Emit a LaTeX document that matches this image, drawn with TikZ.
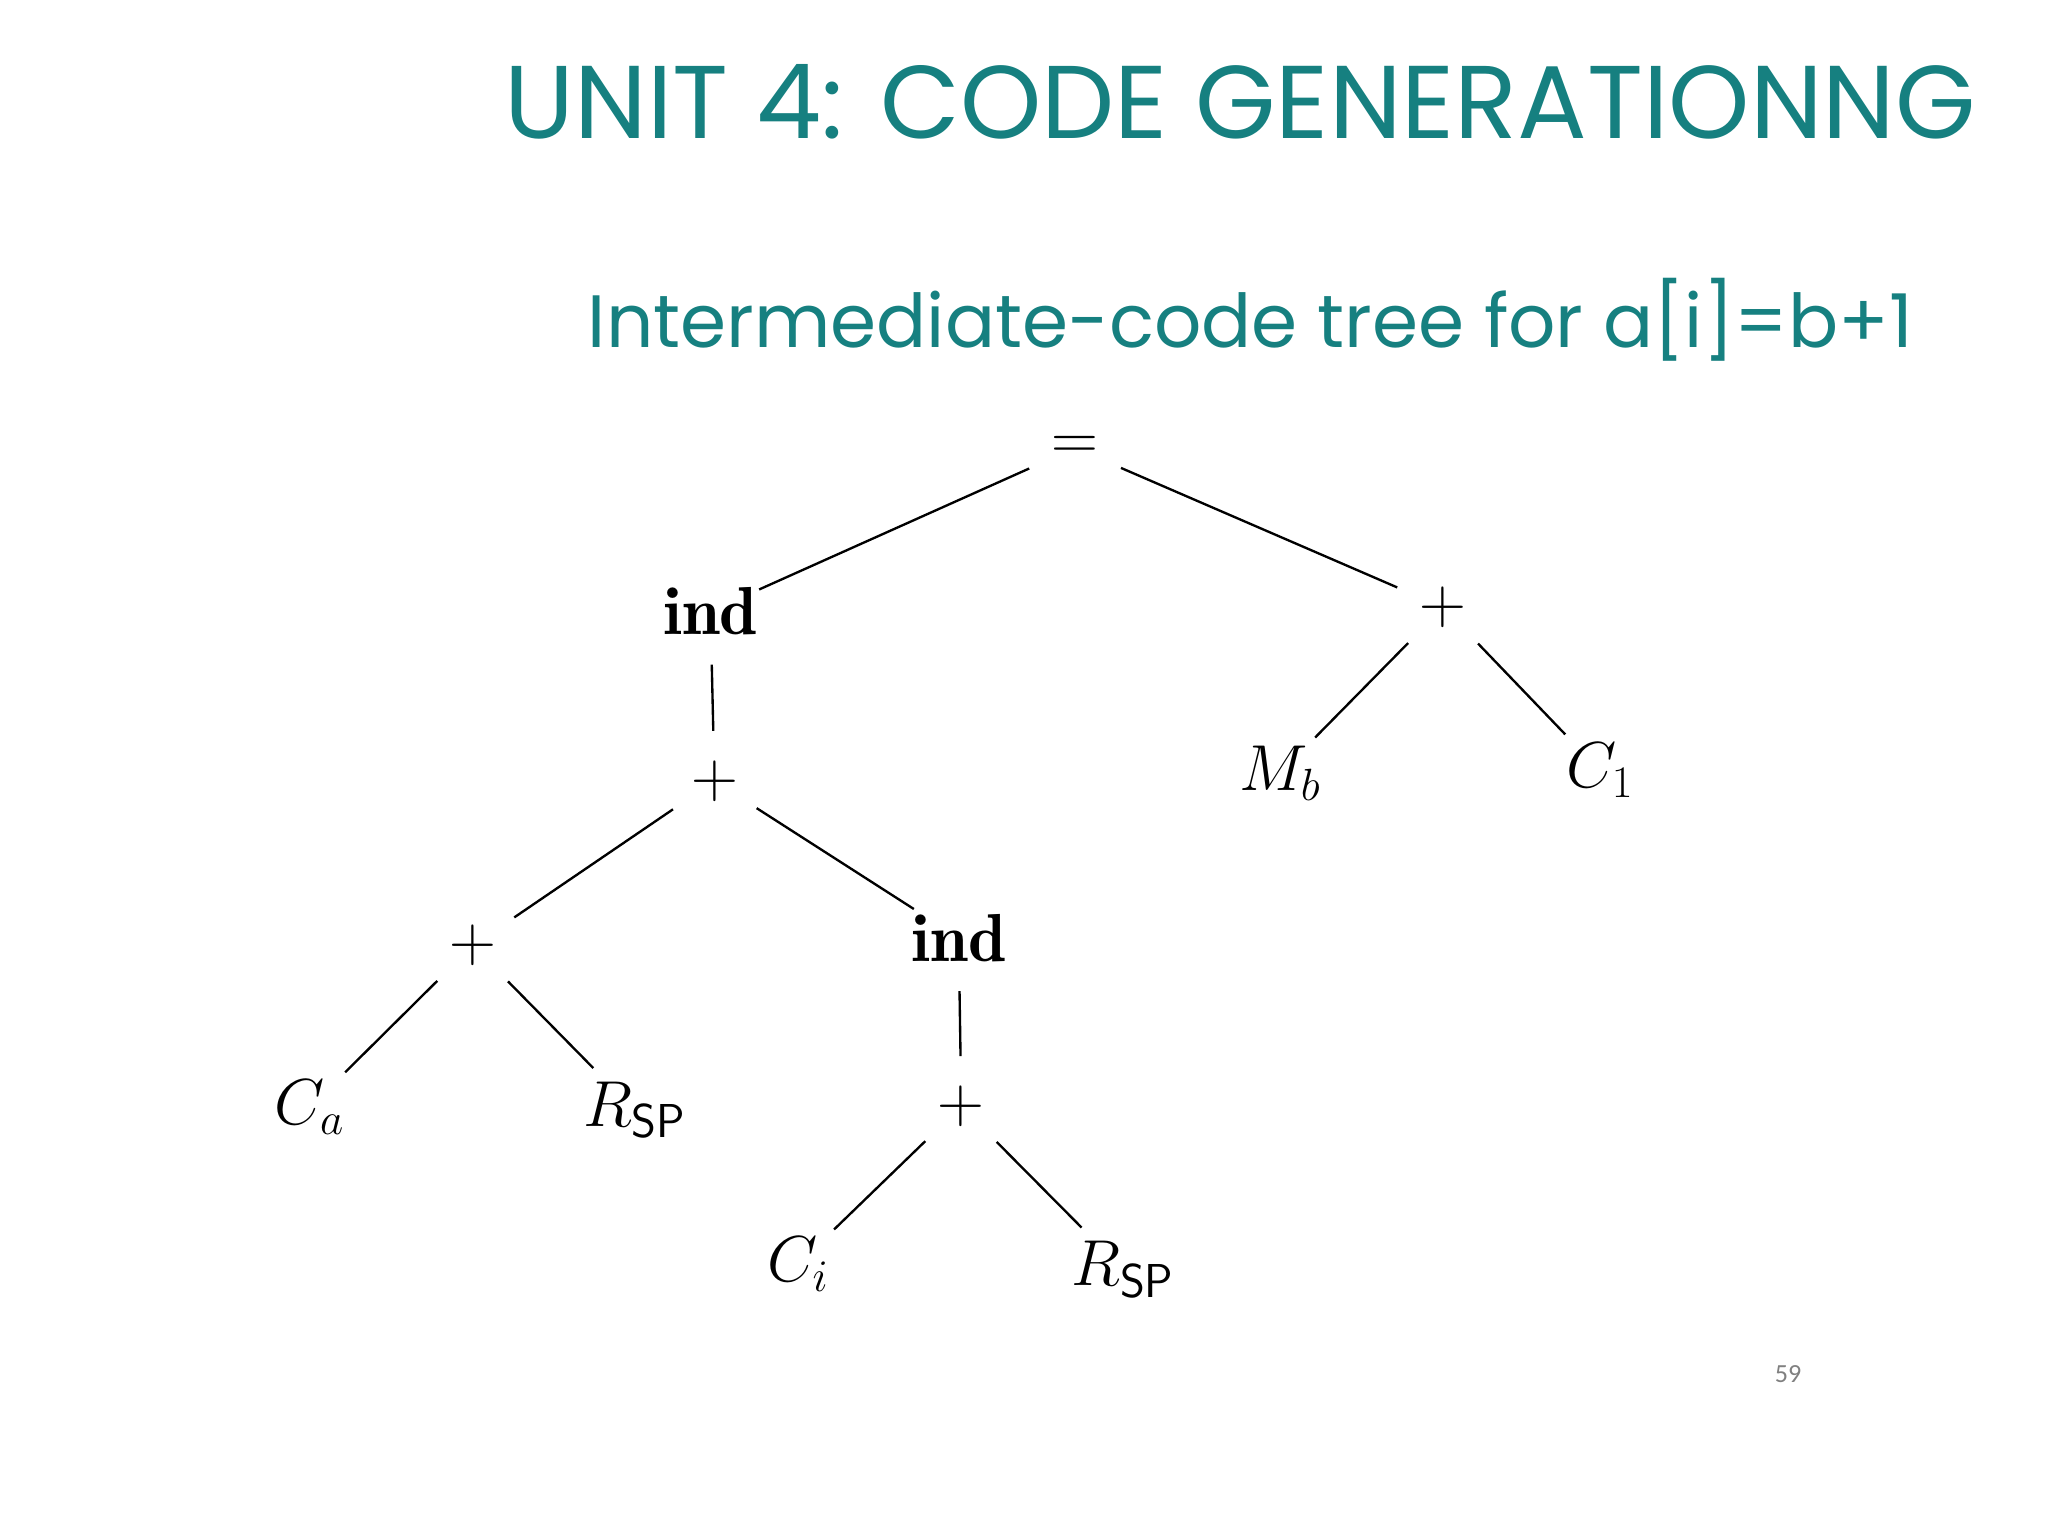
\documentclass[tikz,border=0pt]{standalone}
\usepackage{fontspec}
\newfontfamily\pop{Poppins}
\newfontfamily\pnum{Carlito}
\definecolor{teal1}{RGB}{22,128,128}
\begin{document}
\begin{tikzpicture}[x=0.5pt,y=-0.5pt,
  tn/.style={circle,minimum size=38pt,inner sep=0pt,font=\fontsize{26}{30}\selectfont},
  ed/.style={line width=0.9pt}]
\useasboundingbox (0,0) rectangle (1568,1176);
\node[anchor=east,text=teal1,font=\pop\fontsize{39.6}{46}\selectfont] (title) at (1520,78) {UNIT 4: CODE GENERATIONNG};
\node[anchor=west,text=teal1,font=\pop\fontsize{28.4}{34}\selectfont] (sub) at (443,245) {Intermediate-code tree for a[i]=b+1};
\node[tn] (eq) at (823,343) {$=$};
\node[tn] (ind1) at (544,468) {$\mathbf{ind}$};
\node[tn] (p1) at (1105,465) {$+$};
\node[tn] (p2) at (547,598) {$+$};
\node[tn] (mb) at (980,592) {$M_b$};
\node[tn] (c1) at (1225,590) {$C_1$};
\node[tn] (p3) at (362,724) {$+$};
\node[tn] (ind2) at (734,718) {$\mathbf{ind}$};
\node[tn] (ca) at (237,848) {$C_a$};
\node[tn] (r1) at (486,850) {$R_{\mathsf{SP}}$};
\node[tn] (p4) at (736,847) {$+$};
\node[tn] (ci) at (611,968) {$C_i$};
\node[tn] (r2) at (860,972) {$R_{\mathsf{SP}}$};
\draw[ed] (eq)--(ind1); \draw[ed] (eq)--(p1);
\draw[ed] (ind1)--(p2); \draw[ed] (p1)--(mb); \draw[ed] (p1)--(c1);
\draw[ed] (p2)--(p3); \draw[ed] (p2)--(ind2);
\draw[ed] (p3)--(ca); \draw[ed] (p3)--(r1);
\draw[ed] (ind2)--(p4); \draw[ed] (p4)--(ci); \draw[ed] (p4)--(r2);
\node[text=gray,font=\pnum\fontsize{10}{12}\selectfont] (pg) at (1369,1052) {59};
\end{tikzpicture}
\end{document}
